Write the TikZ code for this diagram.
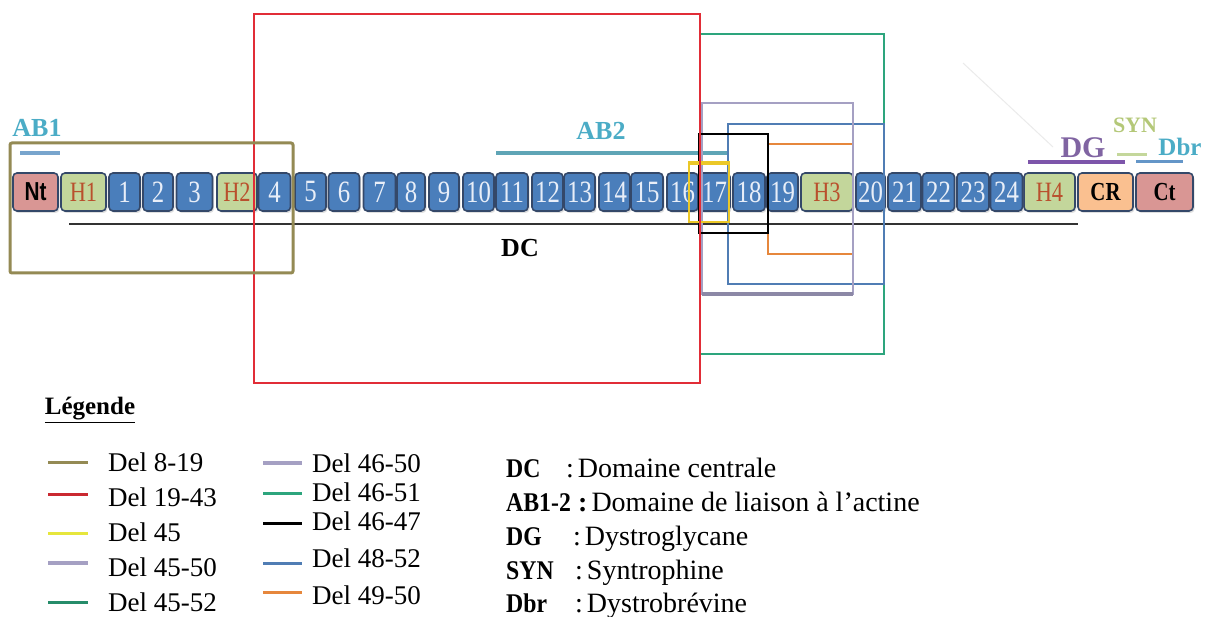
\documentclass[tikz,border=0pt]{standalone}
\usepackage{fontspec}
\usepackage{graphicx}
\setmainfont{Liberation Serif}
\newfontfamily\sansf{Liberation Sans}
\usetikzlibrary{shadows}
\definecolor{segblue}{RGB}{74,126,187}
\definecolor{segline}{RGB}{52,72,105}
\definecolor{hgreen}{RGB}{195,214,155}
\definecolor{htext}{RGB}{185,80,45}
\definecolor{pinkbox}{RGB}{217,150,148}
\definecolor{orbox}{RGB}{250,192,144}
\definecolor{numtext}{RGB}{232,238,248}
\definecolor{olive}{RGB}{148,138,84}
\definecolor{delred}{RGB}{225,45,55}
\definecolor{delgreen}{RGB}{45,165,125}
\definecolor{delpurp}{RGB}{165,160,195}
\definecolor{delblue}{RGB}{80,125,180}
\definecolor{delorange}{RGB}{230,135,60}
\definecolor{delyellow}{RGB}{235,200,40}
\definecolor{legyellow}{RGB}{230,230,60}
\definecolor{teal}{RGB}{75,172,198}
\definecolor{abone}{RGB}{120,165,205}
\definecolor{abtwo}{RGB}{95,165,182}
\definecolor{dgpurp}{RGB}{128,100,162}
\definecolor{dgbar}{RGB}{125,85,170}
\definecolor{syncol}{RGB}{180,200,120}
\definecolor{synbar}{RGB}{196,215,155}
\definecolor{dbrbar}{RGB}{100,150,200}
\newcommand\nb[1]{\scalebox{0.8}[1]{#1}}
\newcommand\kb[1]{\scalebox{0.88}[1]{#1}}
\begin{document}
\begin{tikzpicture}[x=1pt,y=-1pt,
  box/.style={rounded corners=4pt, draw=segline, line width=1.6pt, minimum height=38pt,
    inner sep=0pt, outer sep=0pt, drop shadow={shadow xshift=1.5pt, shadow yshift=-2pt, opacity=0.25}},
  numbox/.style={box, fill=segblue, text=numtext, font=\fontsize{31}{31}\selectfont},
  hbox/.style={box, fill=hgreen, text=htext, font=\fontsize{28}{28}\selectfont},
  endbox/.style={box, font=\bfseries\fontsize{26}{26}\selectfont},
  lbl/.style={font=\bfseries\fontsize{26}{26}\selectfont, inner sep=0pt},
  legtext/.style={anchor=west, font=\fontsize{27}{27}\selectfont, inner sep=0pt},
  abbrtext/.style={anchor=base west, font=\fontsize{28}{28}\selectfont, inner sep=0pt},
  abbrkey/.style={anchor=base west, font=\bfseries\fontsize{27}{27}\selectfont, inner sep=0pt},
  legline/.style={line width=3pt},
  delbox/.style={line width=2pt}
]
\useasboundingbox (0,0) rectangle (1210,617);
\fill[white] (0,0) rectangle (1210,617);

% faint artifact line
\draw[black!8, line width=1pt] (963,63) -- (1053,147);

% segments
\node[endbox, fill=pinkbox, minimum width=45pt] (nt) at (35.5,192) {\sansf\bfseries\nb{Nt}};
\node[hbox, minimum width=45pt] (h1) at (83.5,192) {\nb{H1}};
\node[hbox, minimum width=40pt] (h2) at (237,192) {\nb{H2}};
\node[hbox, minimum width=52pt] (h3) at (827,192) {\nb{H3}};
\node[hbox, minimum width=51pt] (h4) at (1049.5,192) {\nb{H4}};
\node[endbox, fill=orbox, minimum width=55pt] (cr) at (1105.5,192) {\nb{CR}};
\node[endbox, fill=pinkbox, minimum width=57pt] (ct) at (1164.5,192) {\nb{Ct}};
\foreach \n/\c/\w in {1/124.5/31, 2/158/30, 3/194.5/36, 4/274.5/32, 5/310.5/31, 6/344/31,
  7/379.5/32, 8/411/28, 9/444/30, 10/478.5/31, 11/512/32, 12/547.5/31, 13/579.5/31,
  14/614.5/31, 15/647/32, 16/682.5/31, 17/714.5/31, 18/749/32, 19/782.5/31,
  20/870.5/29, 21/904.5/33, 22/938.5/32, 23/973/32, 24/1006.5/32}
  \node[numbox, minimum width={\w pt}] (s\n) at (\c,192) {\nb{\n}};

% domain bars and labels
\draw[black!80, line width=2pt] (69,224) coordinate (dcA) -- (1078,224) coordinate (dcB);
\node[lbl] (dc) at (520,248) {DC};
\node[lbl, text=teal] (ab1) at (37,128) {AB1};
\draw[abone, line width=4pt] (20,153) coordinate (ab1A) -- (60,153) coordinate (ab1B);
\node[lbl, text=teal] (ab2) at (601,131) {AB2};
\draw[abtwo, line width=4pt] (496,153) coordinate (ab2A) -- (728,153) coordinate (ab2B);
\node[lbl, text=dgpurp, font=\bfseries\fontsize{30}{30}\selectfont] (dg) at (1083,148) {DG};
\draw[dgbar, line width=3.5pt] (1028,162) coordinate (dgA) -- (1125,162) coordinate (dgB);
\node[lbl, text=syncol, font=\bfseries\fontsize{22}{22}\selectfont] (syn) at (1135,125) {SYN};
\draw[synbar, line width=3pt] (1117,155) coordinate (synA) -- (1147,155) coordinate (synB);
\node[lbl, text=teal, font=\bfseries\fontsize{25}{25}\selectfont] (dbr) at (1180,147) {Dbr};
\draw[dbrbar, line width=3pt] (1136,162) coordinate (dbrA) -- (1183,162) coordinate (dbrB);

% deletion boxes
\draw[delbox, delgreen] (700,34) rectangle (884,354);
\draw[delbox, delblue, line width=1.5pt] (728,124) rectangle (884,284);
\draw[delbox, delorange, line width=1.5pt] (768,144) rectangle (853,254);
\draw[delbox, delpurp, line width=2.5pt] (702,103) rectangle (853,294);
\draw[delpurp!85!black, line width=4pt] (702,294) -- (853,294);
\draw[delbox, black] (699,134) rectangle (768,233);
\draw[delbox, delyellow, line width=1.5pt] (689,162) rectangle (729,222);
\draw[delyellow, line width=3pt] (689,164) -- (729,164);
\draw[delbox, delred] (254,14) rectangle (700,383);
\draw[olive, line width=3pt, rounded corners=2pt] (10,143) rectangle (293,273);

% legend
\node[font=\bfseries\fontsize{25}{25}\selectfont, inner sep=0pt] (leg) at (90,410) {\underline{Légende}};
\draw[legline, olive] (48,462) -- (88,462);
\node[legtext] (l1) at (108,462) {Del 8-19};
\draw[legline, delred!90!black] (48,494) -- (88,494);
\node[legtext] (l2) at (108,497) {Del 19-43};
\draw[legline, legyellow] (48,533) -- (88,533);
\node[legtext] (l3) at (108,532) {Del 45};
\draw[legline, delpurp, line width=4pt] (48,563) -- (88,563);
\node[legtext] (l4) at (108,567) {Del 45-50};
\draw[legline, delgreen!85!black] (48,602) -- (88,602);
\node[legtext] (l5) at (108,602) {Del 45-52};

\draw[legline, delpurp, line width=4pt] (263,463) -- (302,463);
\node[legtext] (r1) at (312,463) {Del 46-50};
\draw[legline, delgreen] (263,493) -- (302,493);
\node[legtext] (r2) at (312,492) {Del 46-51};
\draw[legline, black] (263,523) -- (302,523);
\node[legtext] (r3) at (312,521) {Del 46-47};
\draw[legline, delblue] (263,563) -- (302,563);
\node[legtext] (r4) at (312,558) {Del 48-52};
\draw[legline, delorange] (263,592) -- (302,592);
\node[legtext] (r5) at (312,595) {Del 49-50};

% abbreviations
\node[abbrkey] (k1) at (506,477) {\kb{DC}};
\node[abbrtext] (d1) at (566,477) {:\hspace{4pt}Domaine centrale};
\node[abbrkey] (k2) at (506,511) {\kb{AB1-2}};
\node[abbrtext] (d2) at (578,511) {\textbf{:}\hspace{4pt}Domaine de liaison à l’actine};
\node[abbrkey] (k3) at (506,545) {\kb{DG}};
\node[abbrtext] (d3) at (573,545) {:\hspace{4pt}Dystroglycane};
\node[abbrkey] (k4) at (506,579) {\kb{SYN}};
\node[abbrtext] (d4) at (575,579) {:\hspace{4pt}Syntrophine};
\node[abbrkey] (k5) at (506,612) {\kb{Dbr}};
\node[abbrtext] (d5) at (575,612) {:\hspace{4pt}Dystrobrévine};
\end{tikzpicture}
\end{document}
